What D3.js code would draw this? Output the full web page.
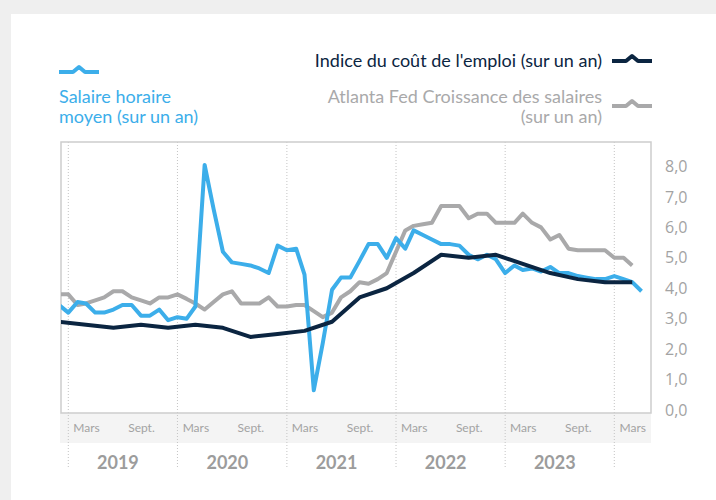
<!DOCTYPE html>
<html>
<head>
<meta charset="utf-8">
<script src="https://cdn.jsdelivr.net/npm/d3@7"></script>
<style>
	body { margin: 0; background: #efefef; }
	svg { display: block; }
</style>
</head>
<body>
<div id="chart"></div>
<script>
// monthly series start in Dec 2018, ECI is quarterly (end of quarter)
const firstMonth = new Date(2018, 11, 1);

// Salaire horaire moyen (sur un an)
const ahe = [
	3.45,
	3.2, 3.55, 3.5, 3.2, 3.2, 3.3, 3.45, 3.45, 3.1, 3.1, 3.3, 2.95,    // 2019
	3.05, 3.0, 3.4, 8.05, 6.6, 5.2, 4.85, 4.8, 4.75, 4.65, 4.5, 5.4,   // 2020
	5.25, 5.3, 4.45, 0.65, 2.2, 3.95, 4.35, 4.35, 4.9, 5.45, 5.45, 5.0, // 2021
	5.65, 5.3, 5.9, 5.75, 5.6, 5.45, 5.45, 5.4, 5.1, 4.95, 5.1, 4.95,  // 2022
	4.5, 4.75, 4.6, 4.65, 4.55, 4.7, 4.5, 4.5, 4.4, 4.35, 4.3, 4.3,    // 2023
	4.4, 4.3, 4.2, 3.9                                                 // 2024
];

// Atlanta Fed Croissance des salaires (sur un an)
const atlanta = [
	3.8,
	3.8, 3.45, 3.5, 3.6, 3.7, 3.9, 3.9, 3.7, 3.6, 3.5, 3.7, 3.7,
	3.8, 3.65, 3.5, 3.3, 3.55, 3.8, 3.9, 3.5, 3.5, 3.5, 3.7, 3.4,
	3.4, 3.45, 3.45, 3.25, 3.05, 3.2, 3.7, 3.9, 4.2, 4.15, 4.3, 4.5,
	5.2, 5.9, 6.05, 6.1, 6.15, 6.7, 6.7, 6.7, 6.3, 6.45, 6.45, 6.15,
	6.15, 6.15, 6.45, 6.15, 6.0, 5.6, 5.75, 5.3, 5.25, 5.25, 5.25, 5.25,
	5.0, 5.0, 4.75
];

// Indice du coût de l'emploi (sur un an), quarterly
const eci = [2.9, 2.8, 2.7, 2.8, 2.7, 2.8, 2.7, 2.4, 2.5, 2.6, 2.9, 3.7,
	4.0, 4.5, 5.1, 5.0, 5.1, 4.8, 4.5, 4.3, 4.2, 4.2];

const years = [2019, 2020, 2021, 2022, 2023];
const monthNames = {2: "Mars", 8: "Sept."};
const yTicks = [0, 1, 2, 3, 4, 5, 6, 7, 8];

const colors = { ahe: "#3caeea", eci: "#0b2541", atl: "#a9a9aa" };

const W = 716, H = 500;
const frame = { left: 61, right: 651, top: 142, bottom: 413 };

const svg = d3.select("#chart").append("svg")
	.attr("width", W)
	.attr("height", H);

svg.append("rect").attr("width", W).attr("height", H).attr("fill", "#efefef");
svg.append("rect").attr("x", 11).attr("y", 14).attr("width", W - 11).attr("height", H - 14).attr("fill", "#fff");

const x = d3.scaleTime()
	.domain([new Date(2019, 0, 1), new Date(2024, 0, 1)])
	.range([68.3, 614.3]);

const y = d3.scaleLinear()
	.domain([0, 8])
	.range([410, 166.5]);

const toSeries = (arr, step) => arr.map((v, i) => ({ date: d3.timeMonth.offset(firstMonth, i * step), value: v }));

// axis band behind month labels
svg.append("rect")
	.attr("x", 60).attr("y", frame.bottom)
	.attr("width", frame.right - 60).attr("height", 30)
	.attr("fill", "#f4f4f4");

// year separators
const yearStarts = years.concat([2024]).map(yr => new Date(yr, 0, 1));
svg.append("g").selectAll("line")
	.data(yearStarts)
	.join("line")
	.attr("x1", d => x(d)).attr("x2", d => x(d))
	.attr("y1", frame.top).attr("y2", 468)
	.attr("stroke", "#c4c4c4")
	.attr("stroke-width", 1)
	.attr("stroke-dasharray", "1,2");

// frame
svg.append("rect")
	.attr("x", frame.left).attr("y", frame.top)
	.attr("width", frame.right - frame.left).attr("height", frame.bottom - frame.top)
	.attr("fill", "none")
	.attr("stroke", "#cdcdcd")
	.attr("stroke-width", 1.5);

// y axis on the right
const fr = d3.formatLocale({ decimal: ",", thousands: " ", grouping: [3], currency: ["", " €"] }).format(".1f");
const yAxis = svg.append("g")
	.attr("transform", `translate(${frame.right},0)`)
	.call(d3.axisRight(y).tickValues(yTicks).tickFormat(fr).tickSize(0).tickPadding(14));
yAxis.select(".domain").remove();
yAxis.selectAll("text")
	.attr("fill", "#a3a3a3")
	.style("font-family", "'Open Sans', sans-serif")
	.style("font-size", "16px");

// month labels
const monthTicks = d3.timeMonths(new Date(2019, 0, 1), new Date(2024, 3, 1))
	.filter(d => monthNames[d.getMonth()]);
const xAxis = svg.append("g")
	.attr("transform", `translate(0,${frame.bottom})`)
	.call(d3.axisBottom(x).tickValues(monthTicks).tickFormat(d => monthNames[d.getMonth()]).tickSize(0).tickPadding(10));
xAxis.select(".domain").remove();
xAxis.selectAll("text")
	.attr("fill", "#a3a3a3")
	.style("font-family", "Lato, sans-serif")
	.style("font-size", "12px");

// year labels
svg.append("g").selectAll("text")
	.data(years)
	.join("text")
	.attr("x", d => x(new Date(d, 5, 16)))
	.attr("y", 469)
	.attr("text-anchor", "middle")
	.attr("fill", "#9c9c9c")
	.style("font-family", "Lato, sans-serif")
	.style("font-weight", "bold")
	.style("font-size", "18px")
	.text(d => d);

// lines
svg.append("clipPath").attr("id", "plot-clip")
	.append("rect")
	.attr("x", frame.left).attr("y", frame.top)
	.attr("width", frame.right - frame.left).attr("height", frame.bottom - frame.top);

const line = d3.line()
	.x(d => x(d.date))
	.y(d => y(d.value));

const plot = svg.append("g").attr("clip-path", "url(#plot-clip)");

[
	{ data: toSeries(atlanta, 1), color: colors.atl },
	{ data: toSeries(ahe, 1), color: colors.ahe },
	{ data: toSeries(eci, 3), color: colors.eci }
].forEach(s => {
	plot.append("path")
		.datum(s.data)
		.attr("fill", "none")
		.attr("stroke", s.color)
		.attr("stroke-width", 4)
		.attr("stroke-linejoin", "round")
		.attr("d", line);
});

// legend
const icon = d3.line()([[0, 0], [14, 0], [20, -5], [26, 0], [40, 0]]);

function legendIcon(px, py, color) {
	svg.append("path")
		.attr("transform", `translate(${px},${py})`)
		.attr("d", icon)
		.attr("fill", "none")
		.attr("stroke", color)
		.attr("stroke-width", 4)
		.attr("stroke-linejoin", "round");
}

function legendText(px, py, lines, color, anchor) {
	const t = svg.append("text")
		.attr("x", px).attr("y", py)
		.attr("text-anchor", anchor)
		.attr("fill", color)
		.style("font-family", "Lato, sans-serif")
		.style("font-size", "18px");
	lines.forEach((l, i) => {
		t.append("tspan").attr("x", px).attr("dy", i ? 20 : 0).text(l);
	});
}

legendIcon(59, 72, colors.ahe);
legendText(59, 103, ["Salaire horaire", "moyen (sur un an)"], colors.ahe, "start");

legendIcon(612, 61, colors.eci);
legendText(602, 67, ["Indice du coût de l'emploi (sur un an)"], colors.eci, "end");

legendIcon(612, 106, colors.atl);
legendText(602, 103, ["Atlanta Fed Croissance des salaires", "(sur un an)"], colors.atl, "end");
</script>
</body>
</html>
